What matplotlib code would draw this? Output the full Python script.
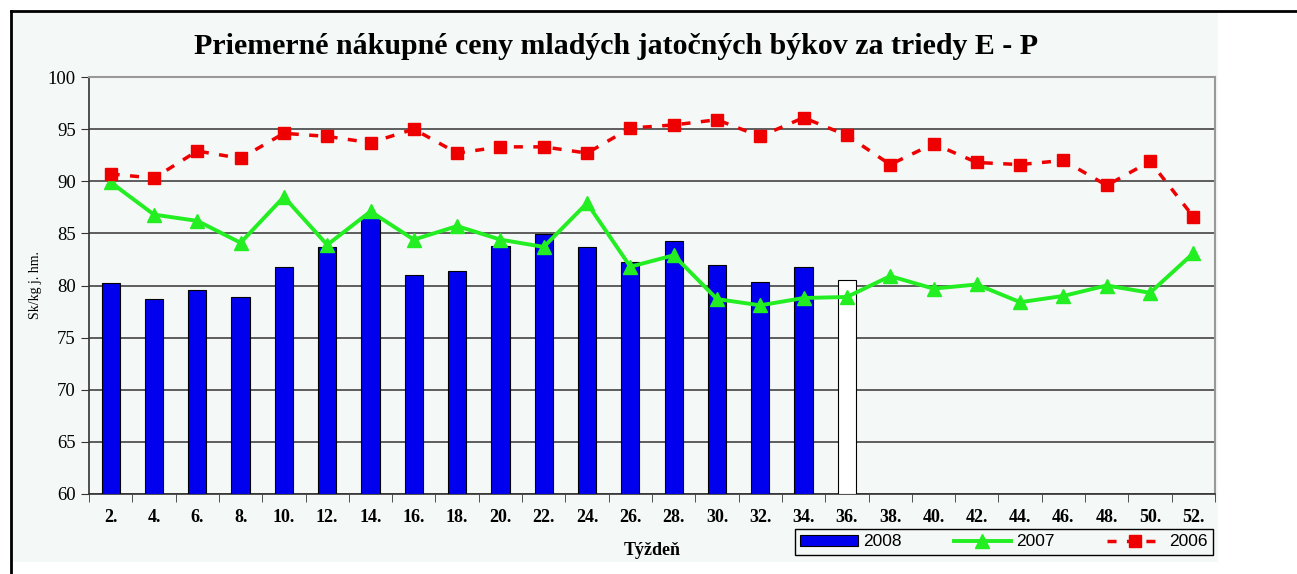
import matplotlib.pyplot as plt
from matplotlib.lines import Line2D
import numpy as np

weeks = [f"{w}." for w in range(2, 53, 2)]

# 2008 bars (last one = week 36, unfinished, drawn empty)
y2008 = [80.2, 78.7, 79.6, 78.9, 81.8, 83.7, 86.6, 81.0, 81.4, 83.8,
         84.9, 83.7, 82.3, 84.3, 82.0, 80.3, 81.8]
y2008_open = 80.5

y2007 = [89.9, 86.8, 86.2, 84.1, 88.5, 83.9, 87.1, 84.4, 85.7, 84.4,
         83.7, 87.9, 81.8, 82.9, 78.7, 78.1, 78.8, 78.9, 80.9, 79.7,
         80.1, 78.4, 79.0, 80.0, 79.3, 83.1]

y2006 = [90.7, 90.3, 92.9, 92.2, 94.6, 94.3, 93.7, 95.0, 92.7, 93.3,
         93.3, 92.7, 95.1, 95.4, 95.9, 94.3, 96.1, 94.4, 91.6, 93.6,
         91.8, 91.6, 92.0, 89.6, 91.9, 86.6]

bg = "#f4f8f6"
fig = plt.figure(figsize=(12.97, 5.74), dpi=100)
fig.patch.set_facecolor("white")

# light chart area background
fig.patches.append(plt.Rectangle((12 / 1297, 12 / 574), 1206 / 1297, 550 / 574,
                                 transform=fig.transFigure, facecolor=bg,
                                 edgecolor="none", zorder=-10))
# black outer frame (top and left)
fig.add_artist(Line2D([11 / 1297, 1], [1 - 11 / 574, 1 - 11 / 574], color="black", lw=2))
fig.add_artist(Line2D([11 / 1297, 11 / 1297], [0, 1 - 11 / 574], color="black", lw=2))

ax = fig.add_axes([89 / 1297, 80 / 574, 1126 / 1297, 417 / 574])
ax.set_facecolor(bg)

x = np.arange(len(weeks))
ax.bar(x[:len(y2008)], np.array(y2008) - 60, bottom=60, width=0.42,
       color="#0000ee", edgecolor="black", linewidth=0.8, zorder=3)
ax.bar(x[len(y2008)], y2008_open - 60, bottom=60, width=0.42,
       color="white", edgecolor="black", linewidth=0.8, zorder=3)

ax.plot(x, y2007, color="#22ee22", lw=2.8, marker="^", markersize=10, zorder=4)
ax.plot(x, y2006, color="#ee0000", lw=2.5, ls=(0, (2.6, 3.0)), marker="s",
        markersize=9, zorder=5)

ax.set_ylim(60, 100)
ax.set_xlim(-0.5, len(weeks) - 0.5)
ax.set_yticks(range(60, 101, 5))
ax.yaxis.grid(True, color="#333333", lw=1.1, zorder=0)
ax.set_axisbelow(True)

ax.set_xticks(x)
ax.set_xticklabels(weeks, fontfamily="Liberation Serif", fontweight="bold", fontsize=13)
ax.set_xticks(np.arange(-0.5, len(weeks)), minor=True)
ax.tick_params(axis="x", which="major", length=0, pad=11)
ax.tick_params(axis="x", which="minor", length=6, color="#333333")
ax.tick_params(axis="y", length=6, color="#333333", labelsize=13.5)
for lab in ax.get_yticklabels():
    lab.set_fontfamily("Liberation Serif")

for s in ["left", "bottom"]:
    ax.spines[s].set_color("#333333")
    ax.spines[s].set_linewidth(1.2)
for s in ["top", "right"]:
    ax.spines[s].set_color("#999999")
    ax.spines[s].set_linewidth(1.5)

ax.set_ylabel("Sk/kg j. hm.", fontfamily="Liberation Serif", fontsize=10, labelpad=4)
ax.set_xlabel("Týždeň", fontfamily="Liberation Serif", fontweight="bold", fontsize=13)
ax.xaxis.set_label_coords(0.5, -0.115)

fig.text(616 / 1297, 1 - 47 / 574, "Priemerné nákupné ceny mladých jatočných býkov za triedy E - P",
         ha="center", va="center", fontfamily="Liberation Serif", fontweight="bold", fontsize=21.5)

handles = [
    plt.Rectangle((0, 0), 1, 1, facecolor="#0000ee", edgecolor="black", lw=0.8),
    Line2D([], [], color="#22ee22", lw=2.8, marker="^", markersize=10),
    Line2D([], [], color="#ee0000", lw=2.5, ls=(0, (2.6, 3.0)), marker="s", markersize=9),
]
leg = fig.legend(handles, ["2008", "2007", "2006"], ncol=3,
                 loc="center", bbox_to_anchor=(1004 / 1297, 1 - 542 / 574),
                 prop={"family": "Liberation Sans", "size": 12.5},
                 fancybox=False, edgecolor="black", framealpha=1,
                 facecolor=bg, handlelength=3.3, handleheight=0.6,
                 columnspacing=3.0, handletextpad=0.3, borderpad=0.3)
leg.get_frame().set_linewidth(1.0)

fig.savefig("out.png", dpi=100, facecolor=fig.get_facecolor())
